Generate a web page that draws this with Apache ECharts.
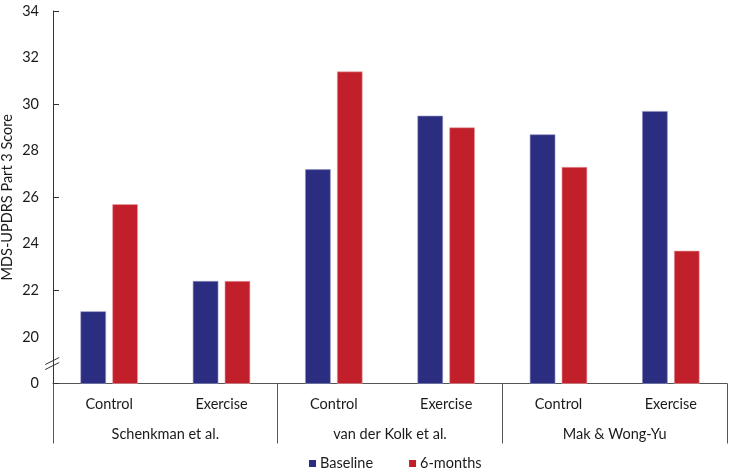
<!DOCTYPE html>
<html>
<head>
<meta charset="utf-8">
<script src="https://cdn.jsdelivr.net/npm/echarts@6/dist/echarts.min.js"></script>
<style>html,body{margin:0;padding:0;background:#fff}#c{width:731px;height:475px}</style>
</head>
<body>
<div id="c"></div>
<script>
const groups = ['Control', 'Exercise', 'Control', 'Exercise', 'Control', 'Exercise'];
const studies = ['Schenkman et al.', 'van der Kolk et al.', 'Mak & Wong-Yu'];
const baseline = [21.1, 22.4, 27.2, 29.5, 28.7, 29.7];
const sixMonths = [25.7, 22.4, 31.4, 29.0, 27.3, 23.7];
const yTicks = [18, 20, 22, 24, 26, 28, 30, 32, 34];
const yTickText = ['0', '20', '22', '24', '26', '28', '30', '32', '34'];

const font = 'Lato, "Open Sans", sans-serif';
const fs = 14.5;
const chart = echarts.init(document.getElementById('c'));
chart.setOption({
  animation: false,
  textStyle: { fontFamily: font },
  grid: { left: 53, right: 4, top: 11, bottom: 91.5, containLabel: false, outerBoundsMode: 'none' },
  legend: {
    left: 304, top: 451, itemWidth: 7, itemHeight: 7, itemGap: 36,
    icon: 'rect',
    itemStyle: { borderWidth: 0 },
    textStyle: { fontFamily: font, fontSize: fs, color: '#1a1a1a', padding: [0, 0, 0, -1] },
    data: ['Baseline', '6-months']
  },
  xAxis: [{
    type: 'category', data: groups, position: 'bottom',
    axisLine: { show: true, lineStyle: { color: '#555', width: 1 } },
    axisTick: { show: false },
    axisLabel: { margin: 13, fontSize: fs, color: '#1a1a1a', fontFamily: font, interval: 0 }
  }, {
    type: 'category', data: studies, position: 'bottom',
    axisLine: { show: false },
    axisTick: { show: true, length: 60, interval: 0, lineStyle: { color: '#555', width: 1 } },
    axisLabel: { margin: 43, fontSize: fs, color: '#1a1a1a', fontFamily: font, interval: 0 }
  }],
  yAxis: [{
    type: 'value', min: yTicks[0], max: yTicks[yTicks.length - 1], interval: 2,
    name: 'MDS-UPDRS Part 3 Score', nameLocation: 'middle', nameGap: 38, nameMoveOverlap: false,
    nameTextStyle: { fontSize: fs, color: '#1a1a1a', fontFamily: font },
    axisLine: { show: true, lineStyle: { color: '#333', width: 1 } },
    axisTick: { show: false },
    splitLine: { show: false },
    axisLabel: {
      fontSize: fs, color: '#1a1a1a', margin: 14, fontFamily: font,
      formatter: v => { const i = yTicks.indexOf(v); return i >= 0 ? yTickText[i] : ''; }
    }
  }, {
    type: 'value', min: yTicks[0], max: yTicks[yTicks.length - 1], interval: 4, position: 'left', offset: 0,
    axisLine: { show: false },
    axisTick: { show: true, inside: true, length: 6, lineStyle: { color: '#333', width: 1 } },
    axisLabel: { show: false },
    splitLine: { show: false }
  }],
  series: [{
    name: 'Baseline', type: 'bar', data: baseline, barWidth: 25.5, barGap: '25%',
    itemStyle: { color: '#2B2E80', borderColor: '#8d8fc4', borderWidth: 0.6 }
  }, {
    name: '6-months', type: 'bar', data: sixMonths, barWidth: 25.5, barGap: '25%',
    itemStyle: { color: '#C1202A', borderColor: '#e7a0a4', borderWidth: 0.6 }
  }]
});

// axis break marks
const yb = chart.convertToPixel({ yAxisIndex: 0 }, 18.9);
const xa = chart.convertToPixel({ xAxisIndex: 0 }, 0) - 56;
chart.setOption({
  graphic: [
    { type: 'line', shape: { x1: xa - 8, y1: yb + 2, x2: xa + 6, y2: yb - 5 }, style: { stroke: '#333', lineWidth: 1 } },
    { type: 'line', shape: { x1: xa - 8, y1: yb + 7, x2: xa + 6, y2: yb }, style: { stroke: '#333', lineWidth: 1 } }
  ]
});
</script>
</body>
</html>
